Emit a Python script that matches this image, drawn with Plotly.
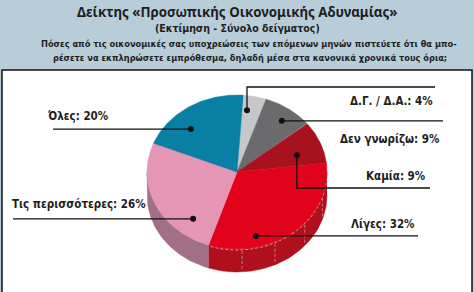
import numpy as np
import plotly.graph_objects as go

# ---- data ----
labels = ["Δ.Γ. / Δ.Α.", "Δεν γνωρίζω", "Καμία", "Λίγες", "Τις περισσότερες", "Όλες"]
values = [4, 9, 9, 32, 26, 20]

title = "Δείκτης «Προσωπικής Οικονομικής Αδυναμίας»"
subtitle = "(Εκτίμηση - Σύνολο δείγματος)"
question1 = "Πόσες από τις οικονομικές σας υποχρεώσεις των επόμενων μηνών πιστεύετε ότι θα μπο-"
question2 = "ρέσετε να εκπληρώσετε εμπρόθεσμα, δηλαδή μέσα στα κανονικά χρονικά τους όρια;"

# ---- styles / layout ----
top_colors = ["#c6c7c9", "#6b6b6d", "#a8121f", "#e0031b", "#e596b4", "#0a7fa4"]
side_colors = ["#9a9a9c", "#4a4a4c", "#7e0c16", "#b0101d", "#a26f88", "#075e79"]
W, H = 474, 292
CX, CY, RX, RY, DEPTH = 237, 172, 90, 77, 23
START = 4
HEADER_BG = "#b8cdd8"
TXT = "#1e1e1e"
LABEL_FONT = "DejaVu Sans Condensed, sans-serif"

# dot position inside slice: (fraction of slice angle, radius fraction)
dot_spec = [(0.27, 0.81), (0.57, 0.83), (0.65, 0.70), (0.717, 0.857), (0.217, 0.78), (0.354, 0.757)]
# leader/label placement per slice
leader = [
    dict(kind="up", elbow=87, end=435, tx=435, ty=101, anchor="right"),
    dict(kind="h", end=443, tx=442, ty=139, anchor="right"),
    dict(kind="down", elbow=188, end=430, tx=428, ty=176, anchor="right"),
    dict(kind="h", end=418, tx=417, ty=224, anchor="right"),
    dict(kind="h", end=13, tx=10, ty=204, anchor="left"),
    dict(kind="h", end=53, tx=45, ty=116, anchor="left"),
]


def pt(theta_deg, f=1.0, dy=0.0):
    t = np.radians(theta_deg)
    return CX + RX * f * np.sin(t), CY - RY * f * np.cos(t) + dy


total = float(sum(values))
cum = np.concatenate([[0], np.cumsum(values)])
bounds = START + 360.0 * cum / total

fig = go.Figure()

# sides (front visible part: 90..270 deg)
for i in range(len(values)):
    a1, a2 = max(bounds[i], 90), min(bounds[i + 1], 270)
    if a2 <= a1:
        continue
    th = np.linspace(a1, a2, 60)
    xt, yt = pt(th)
    xb, yb = pt(th[::-1], dy=DEPTH)
    fig.add_trace(go.Scatter(x=np.concatenate([xt, xb]), y=np.concatenate([yt, yb]),
                             fill="toself", fillcolor=side_colors[i], mode="lines",
                             line=dict(color=side_colors[i], width=0.5),
                             hoverinfo="skip", showlegend=False))

# dashed highlight on the big red side
ri = 3
a1, a2 = max(bounds[ri], 90), min(bounds[ri + 1], 270)
th = np.linspace(a1, a2, 60)
xt, yt = pt(th, dy=1)
fig.add_trace(go.Scatter(x=xt, y=yt, mode="lines", line=dict(color="rgba(255,255,255,0.75)", width=0.8, dash="3px,2px"),
                         hoverinfo="skip", showlegend=False))
for frac in [0.17, 0.38, 0.6, 0.8]:
    a = a1 + (a2 - a1) * frac
    x0, y0 = pt(a, dy=2)
    x1, y1 = pt(a, dy=DEPTH - 1)
    fig.add_trace(go.Scatter(x=[x0, x1], y=[y0, y1], mode="lines",
                             line=dict(color="rgba(255,255,255,0.6)", width=0.7, dash="3px,2px"),
                             hoverinfo="skip", showlegend=False))

# top faces
for i in range(len(values)):
    th = np.linspace(bounds[i], bounds[i + 1], 80)
    xa, ya = pt(th)
    fig.add_trace(go.Scatter(x=np.concatenate([[CX], xa, [CX]]), y=np.concatenate([[CY], ya, [CY]]),
                             fill="toself", fillcolor=top_colors[i], mode="lines",
                             line=dict(color=top_colors[i], width=0.5),
                             hoverinfo="skip", showlegend=False))

# leaders, dots, labels
for i in range(len(values)):
    frac, rf = dot_spec[i]
    a = bounds[i] + (bounds[i + 1] - bounds[i]) * frac
    dx, dy = pt(a, rf)
    L = leader[i]
    if L["kind"] in ("up", "down"):
        xs, ys = [dx, dx, L["end"]], [dy, L["elbow"], L["elbow"]]
    else:
        xs, ys = [dx, L["end"]], [dy, dy]
    fig.add_trace(go.Scatter(x=xs, y=ys, mode="lines", line=dict(color="#111111", width=1.3),
                             hoverinfo="skip", showlegend=False))
    fig.add_trace(go.Scatter(x=[dx], y=[dy], mode="markers", marker=dict(color="#111111", size=6),
                             hoverinfo="skip", showlegend=False))
    fig.add_annotation(x=L["tx"], y=L["ty"], xref="x", yref="y",
                       text=f"<b>{labels[i]}: {values[i]}%</b>", showarrow=False,
                       xanchor=L["anchor"], yanchor="middle",
                       font=dict(family=LABEL_FONT, size=11.5, color=TXT))

# header texts
fig.add_annotation(x=237, y=12, xref="x", yref="y", text=f"<b>{title}</b>", showarrow=False,
                   xanchor="center", yanchor="middle", font=dict(family="Noto Sans, sans-serif", size=13.3, color=TXT))
fig.add_annotation(x=237, y=28, xref="x", yref="y", text=f"<b>{subtitle}</b>", showarrow=False,
                   xanchor="center", yanchor="middle", font=dict(family=LABEL_FONT, size=10.5, color=TXT))
fig.add_annotation(x=249, y=43, xref="x", yref="y", text=f"<b>{question1}</b>", showarrow=False,
                   xanchor="center", yanchor="middle", font=dict(family=LABEL_FONT, size=9.2, color=TXT))
fig.add_annotation(x=250, y=57, xref="x", yref="y", text=f"<b>{question2}</b>", showarrow=False,
                   xanchor="center", yanchor="middle", font=dict(family=LABEL_FONT, size=9.2, color=TXT))

fig.update_layout(
    width=W, height=H, margin=dict(l=0, r=0, t=0, b=0),
    paper_bgcolor=HEADER_BG, plot_bgcolor=HEADER_BG,
    xaxis=dict(range=[0, W], visible=False, fixedrange=True),
    yaxis=dict(range=[H, 0], visible=False, fixedrange=True),
    shapes=[dict(type="rect", xref="x", yref="y", x0=2, x1=472, y0=70, y1=300,
                 fillcolor="white", line=dict(color="#111111", width=1.5), layer="below")],
)

fig.write_html("out.html")
